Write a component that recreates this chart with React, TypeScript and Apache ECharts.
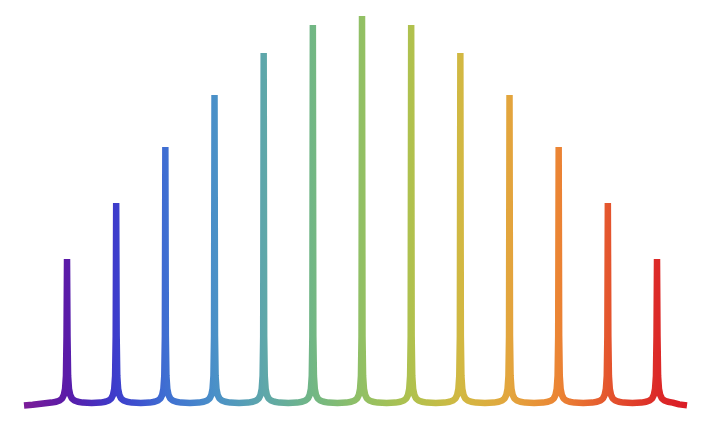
import React, { useEffect, useRef } from "react";
import * as echarts from "echarts";

// Peak heights (px above baseline), one peak per index 0..12
const peakHeights = [147, 203, 259, 311, 353, 381, 390, 381, 353, 311, 259, 203, 147];
// Foot profile of every peak: distance from the peak (in peak spacings) and lift above baseline
const footOffsets = [0.5, 0.32, 0.22, 0.15, 0.1, 0.065, 0.04, 0.022, 0.01];
const footLift = [3, 3.4, 4.2, 5.5, 7.5, 11, 17, 30, 70];
// Ends of the curve
const startPoint: [number, number][] = [[-0.875, 0.5], [-0.7, 1.3]];
const endPoint: [number, number][] = [[12.45, 1.6], [12.61, 0.6]];

const gradientStops = [
  [0, "#7b1c98"],
  [0.065, "#5a1ba8"],
  [0.139, "#3d3dcc"],
  [0.213, "#3f6ed2"],
  [0.287, "#4a90c8"],
  [0.362, "#5ea7aa"],
  [0.436, "#72b784"],
  [0.51, "#92c064"],
  [0.584, "#b0c14e"],
  [0.659, "#d2b842"],
  [0.733, "#e3a53d"],
  [0.807, "#eb8434"],
  [0.881, "#e4562e"],
  [0.955, "#dc2a28"],
  [1, "#da1c26"],
];

function buildData(): [number, number][] {
  const pts: [number, number][] = [...startPoint];
  const last = peakHeights.length - 1;
  peakHeights.forEach((h, i) => {
    for (let k = 0; k < footOffsets.length; k++) {
      if (k === 0 && i > 0) continue; // valley point shared with previous peak
      if (k === 0 && i === 0) continue; // handled by start point
      pts.push([i - footOffsets[k], footLift[k]]);
    }
    pts.push([i, h]);
    for (let k = footOffsets.length - 1; k >= 0; k--) {
      if (k === 0 && i === last) continue; // handled by end point
      pts.push([i + footOffsets[k], footLift[k]]);
    }
  });
  pts.push(...endPoint);
  return pts;
}

export default function App() {
  const ref = useRef<HTMLDivElement>(null);
  useEffect(() => {
    if (!ref.current) return;
    const chart = echarts.init(ref.current, null, { renderer: "svg" });
    chart.setOption({
      animation: false,
      backgroundColor: "#ffffff",
      grid: { left: 24, right: 33, top: 16, bottom: 26 },
      xAxis: { type: "value", min: -0.875, max: 12.61, show: false },
      yAxis: { type: "value", min: 0, max: 390, show: false },
      series: [
        {
          type: "line",
          data: buildData(),
          showSymbol: false,
          symbol: "none",
          smooth: false,
          lineStyle: {
            width: 6.5,
            cap: "butt",
            join: "bevel",
            color: new echarts.graphic.LinearGradient(
              0,
              0,
              1,
              0,
              gradientStops.map(([offset, color]) => ({ offset: offset as number, color: color as string }))
            ),
          },
        },
      ],
    });
    return () => chart.dispose();
  }, []);
  return (
    <div
      ref={ref}
      style={{ position: "fixed", left: 0, top: 0, width: 720, height: 432 }}
    />
  );
}
